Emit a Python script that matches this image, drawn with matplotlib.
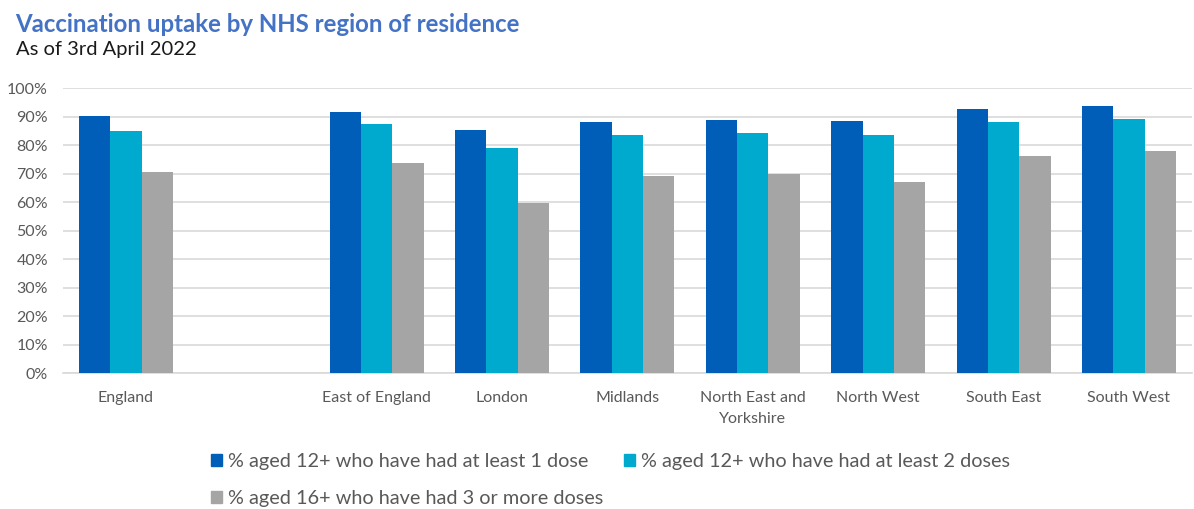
#!/usr/bin/env python3
# Vaccination uptake by NHS region of residence - bar chart

import numpy as np
import matplotlib
matplotlib.use("Agg")
import matplotlib.pyplot as plt
from matplotlib.patches import Patch

# Categories (empty slot after England, as in the original)
regions = ["England", "", "East of England", "London", "Midlands",
           "North East and\nYorkshire", "North West", "South East", "South West"]

# Values in percent
dose1 = [90.2, np.nan, 91.6, 85.2, 88.2, 88.9, 88.5, 92.5, 93.6]
dose2 = [85.1, np.nan, 87.3, 79.1, 83.5, 84.2, 83.5, 88.2, 89.1]
dose3 = [70.4, np.nan, 73.7, 59.6, 69.0, 69.7, 66.9, 76.0, 77.8]

series_labels = ["% aged 12+ who have had at least 1 dose",
                 "% aged 12+ who have had at least 2 doses",
                 "% aged 16+ who have had 3 or more doses"]
colors = ["#005EB8", "#00A9CE", "#A5A5A5"]

plt.rcParams['font.family'] = ['Lato', 'DejaVu Sans']

fig = plt.figure(figsize=(11.94, 5.09), dpi=100)
ax = fig.add_axes([0.053, 0.267, 0.945, 0.56])

x = np.arange(len(regions))
w = 0.25
for i, (vals, col) in enumerate(zip([dose1, dose2, dose3], colors)):
    ax.bar(x + (i - 1) * w, vals, width=w, color=col, zorder=3)

ax.set_xlim(-0.5, len(regions) - 0.5)
ax.set_ylim(0, 100)
ax.set_yticks(np.arange(0, 101, 10))
ax.set_yticklabels([f"{v}%" for v in range(0, 101, 10)])
ax.set_xticks(x)
ax.set_xticklabels(regions)

ax.grid(axis="y", color="#D9D9D9", linewidth=1.2, zorder=0)
for s in ["top", "right", "left"]:
    ax.spines[s].set_visible(False)
ax.spines["bottom"].set_color("#D9D9D9")
ax.spines["bottom"].set_linewidth(1.2)
ax.tick_params(axis="both", length=0, labelsize=11.5, labelcolor="#595959")
ax.tick_params(axis="y", pad=11)
ax.tick_params(axis="x", pad=13)
for lbl in ax.get_xticklabels():
    lbl.set_verticalalignment("top")
    lbl.set_linespacing(1.65)

# Title and subtitle
fig.text(0.013, 0.952, "Vaccination uptake by NHS region of residence",
         fontsize=17.3, fontweight="bold", color="#4472C4", va="center")
fig.text(0.013, 0.903, "As of 3rd April 2022", fontsize=14.5, color="#1A1A1A",
         va="center")

# Legend: order so that row 1 = series 1, 2 and row 2 = series 3
handles = [Patch(color=c) for c in colors]
order = [0, 2, 1]
fig.legend([handles[i] for i in order], [series_labels[i] for i in order],
           ncol=2, loc="center left", bbox_to_anchor=(0.168, 0.057),
           frameon=False, fontsize=14.3, labelcolor="#595959",
           handlelength=0.6, handleheight=0.6, handletextpad=0.3,
           columnspacing=1.0, labelspacing=1.0, borderpad=0)

fig.savefig("out.png", dpi=100)
